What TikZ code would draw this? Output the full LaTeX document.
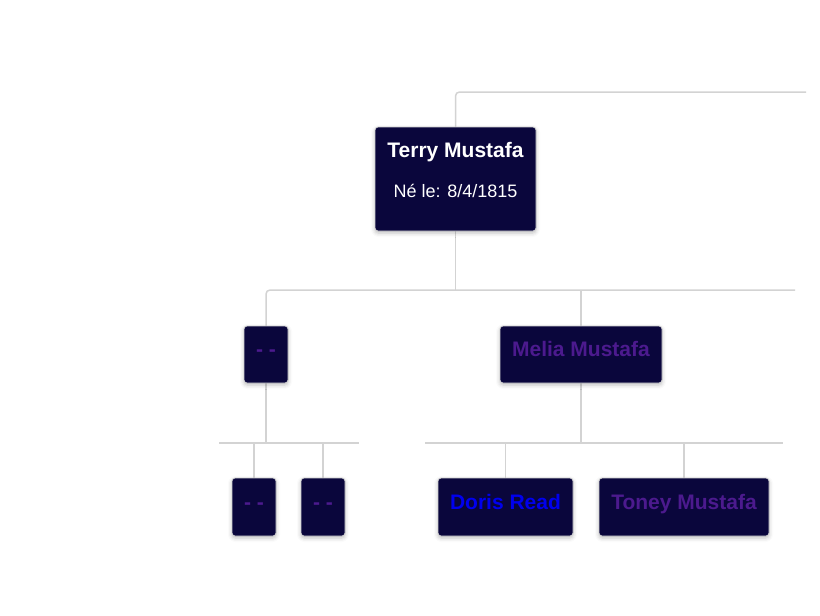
\documentclass[tikz,border=0pt]{standalone}
\usepackage{fontspec}
\setmainfont{Liberation Sans}
\usetikzlibrary{shadows.blur,backgrounds}
\definecolor{boxfill}{HTML}{0A063C}
\definecolor{linegray}{HTML}{D3D3D3}
\definecolor{purp}{HTML}{4C1A8E}
\definecolor{blu}{HTML}{0000EE}
\tikzset{
  person/.style={draw=linegray, line width=0.8pt, fill=boxfill, rounded corners=3pt, inner sep=0pt,
    blur shadow={shadow xshift=0pt, shadow yshift=-2pt, shadow blur radius=4pt, shadow opacity=25}},
  conn/.style={draw=linegray, line width=1.5pt},
  nm/.style={anchor=base, inner sep=0pt, font=\fontsize{21}{25}\selectfont\bfseries},
  dt/.style={anchor=base, inner sep=0pt, font=\fontsize{18}{22}\selectfont, text=white}
}
\begin{document}
\begin{tikzpicture}[x=1pt, y=-1pt]
\useasboundingbox (0,0) rectangle (820,616);
% free line ends
\coordinate (topend) at (806,92);
\coordinate (midend) at (795,290);
\coordinate (lA) at (219,443);
\coordinate (lB) at (359,443);
\coordinate (rA) at (425,443);
\coordinate (rB) at (783,443);

% boxes
\node[person, minimum width=161pt, minimum height=104pt] (terry) at (455.5,179) {};
\node[person, minimum width=44pt, minimum height=57pt] (dd1) at (266,354.5) {};
\node[person, minimum width=162pt, minimum height=57pt] (melia) at (581,354.5) {};
\node[person, minimum width=44pt, minimum height=58pt] (dd2) at (254,507) {};
\node[person, minimum width=44pt, minimum height=58pt] (dd3) at (323,507) {};
\node[person, minimum width=135pt, minimum height=58pt] (doris) at (505.5,507) {};
\node[person, minimum width=170pt, minimum height=58pt] (toney) at (684,507) {};

% connectors, under the boxes
\begin{scope}[on background layer]
\draw[conn, rounded corners=4pt] (terry.center) |- (topend);
\draw[conn] (terry.center) -- (terry.center |- midend);
\draw[conn, rounded corners=4pt] (dd1.center) |- (midend);
\draw[conn] (melia.center) -- (melia.center |- midend);
\draw[conn] (dd1.center) -- (dd1.center |- lA);
\draw[conn] (lA) -- (lB);
\draw[conn] (dd2.center) -- (dd2.center |- lA);
\draw[conn] (dd3.center) -- (dd3.center |- lA);
\draw[conn] (melia.center) -- (melia.center |- rA);
\draw[conn] (rA) -- (rB);
\draw[conn] (doris.center) -- (doris.center |- rA);
\draw[conn] (toney.center) -- (toney.center |- rA);
\end{scope}

% texts
\node[nm, text=white] (terryname) at (455.5,157) {Terry Mustafa};
\node[dt] (terrydate) at (455.5,197) {Né le: 8/4/1815};
\node[nm, text=purp] (dd1name) at (266,356) {- -};
\node[nm, text=purp] (melianame) at (581,356) {Melia Mustafa};
\node[nm, text=purp] (dd2name) at (254,509) {- -};
\node[nm, text=purp] (dd3name) at (323,509) {- -};
\node[nm, text=blu] (dorisname) at (505.5,509) {Doris Read};
\node[nm, text=purp] (toneyname) at (684,509) {Toney Mustafa};
\end{tikzpicture}
\end{document}
